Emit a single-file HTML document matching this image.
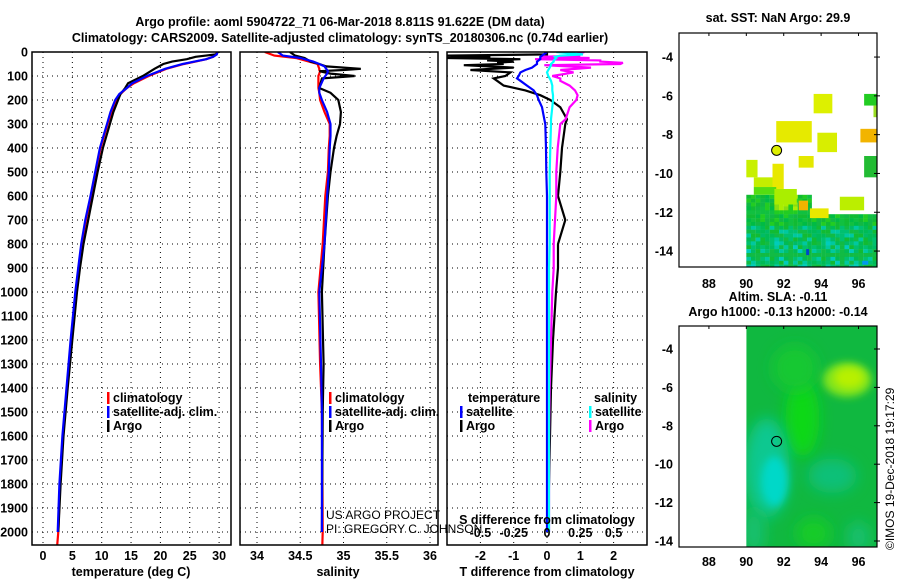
<!DOCTYPE html>
<html><head><meta charset="utf-8"><style>
html,body{margin:0;padding:0;background:#fff;overflow:hidden;}
svg{display:block;font-family:"Liberation Sans",Arial,sans-serif;}
.b{font-weight:bold;font-size:12.5px;}
.n{font-weight:normal;font-size:12px;}
</style></head><body>
<svg id="fig" width="900" height="580" viewBox="0 0 900 580"></svg>
<script>
// ---------- data ----------
const tempDepth=[0,10,20,30,40,50,70,100,130,150,175,200,250,300,400,500,600,700,800,900,1000,1200,1400,1600,1800,2000];
const tempClim=[29.6,29.5,29.0,27.8,26.0,24.0,21.0,18.0,15.5,14.3,13.2,12.6,11.7,11.0,9.8,9.0,8.2,7.3,6.6,6.1,5.6,4.8,4.1,3.4,2.9,2.6];
const tempSat=[29.7,29.6,29.0,27.8,25.8,23.8,20.8,17.7,15.2,14.3,13.0,12.3,11.5,10.9,9.7,8.9,8.1,7.2,6.5,6.0,5.5,4.7,4.0,3.3,2.8,2.5];
const tempArgo=[29.8,29.5,26.0,24.5,22.0,20.5,19.0,17.0,14.5,14.0,13.2,12.8,12.0,11.4,10.2,9.3,8.5,7.7,6.9,6.3,5.8,5.0,4.2,3.5,3.0,2.6];
const salDepth=[0,15,25,40,50,60,70,75,80,90,100,110,150,170,200,250,300,350,400,500,600,800,1000,1300,1500,2000];
const salClim=[34.09,34.2,34.45,34.6,34.7,34.71,34.72,34.72,34.73,34.72,34.71,34.71,34.71,34.72,34.73,34.78,34.84,34.84,34.83,34.82,34.79,34.76,34.71,34.73,34.75,34.76];
const salSat=[34.24,34.3,34.5,34.65,34.72,34.78,34.8,34.81,34.82,34.81,34.79,34.77,34.72,34.72,34.75,34.81,34.85,34.85,34.84,34.83,34.81,34.78,34.72,34.74,34.75,34.75];
const salArgo=[34.38,34.44,34.55,34.62,34.72,34.8,35.2,35.0,34.72,34.85,35.13,34.75,34.72,34.85,34.94,34.97,34.96,34.92,34.89,34.85,34.82,34.78,34.75,34.77,34.76,34.75];
const dDepth=[0,10,15,20,25,30,35,40,45,50,55,65,75,85,100,110,120,140,160,180,200,230,280,300,400,500,600,700,800,900,1000,1200,1400,1600,2000];
const dTSat=[0,-0.1,-0.15,-0.2,-0.2,-0.2,-0.25,-0.3,-0.3,-0.3,-0.35,-0.45,-0.65,-0.8,-0.85,-0.9,-0.8,-0.6,-0.4,-0.3,-0.25,-0.15,-0.08,-0.05,-0.03,-0.02,0,0,0,0,0,0,0,0,0];
const dTArgo=[0,0,-3,-1.7,-3,-0.8,-1.8,-1.0,-1.5,-1.3,-2.5,-1.0,-2.3,-1.1,-1.25,-1.6,-1.5,-1.3,-0.65,-0.2,0.1,0.4,0.6,0.55,0.45,0.4,0.33,0.55,0.33,0.33,0.27,0.18,0.12,0.09,0.03];
const dSSat=[0.07,0.27,0.1,0.06,0.07,0.06,0.05,0.05,0.04,0.03,0.03,0.02,0.01,0.0,0.01,0.02,0.03,0.04,0.04,0.045,0.045,0.04,0.03,0.03,0.025,0.02,0.02,0.02,0.02,0.015,0.015,0.015,0.015,0.015,0.015];
const dSArgo=[0.28,0.21,0.25,-0.05,0.32,-0.09,0.4,0.4,0.57,0.55,-0.02,0.33,0.1,0.2,0.04,0.1,0.1,0.17,0.21,0.23,0.22,0.17,0.14,0.1,0.08,0.07,0.07,0.06,0.05,0.05,0.04,0.03,0.02,0.015,0.015];
const depthTicks=[0,100,200,300,400,500,600,700,800,900,1000,1100,1200,1300,1400,1500,1600,1700,1800,1900,2000];
const tempTicks=[0,5,10,15,20,25,30];
const salTicks=[34,34.5,35,35.5,36];
const dTTicks=[-2,-1,0,1,2];
const dSTicks=[-0.5,-0.25,0,0.25,0.5];
const lonTicks=[88,90,92,94,96];
const latTicks=[-4,-6,-8,-10,-12,-14];
// SST patches: [lon0,lat0,lon1,lat1,color]
const sstPatches=[
 [93.6,-5.9,94.6,-6.9,'#ddf000'],[96.3,-5.9,97,-6.5,'#22cc22'],[96.8,-6.5,97,-7.1,'#99dd22'],
 [91.6,-7.3,93.5,-8.4,'#e6ea00'],[93.8,-7.9,94.85,-8.9,'#d8ee00'],[96.1,-7.7,97,-8.4,'#f2b400'],
 [92.8,-9.1,93.6,-9.7,'#e4e800'],[96.3,-9.1,97,-10.2,'#22bb33'],[90,-9.3,90.6,-10.2,'#c8f000'],
 [91.4,-9.5,92,-10.8,'#e8e800'],[90.4,-10.2,91.4,-10.7,'#c4ee00'],[90.4,-10.7,91.6,-11.1,'#55dd11'],
 [91.5,-10.8,92.7,-11.6,'#aaee00'],[95.0,-11.2,96.3,-11.9,'#bbee00'],[93.4,-11.8,94.4,-12.3,'#e8e800'],
 [92.8,-11.4,93.3,-11.9,'#f2b400']
];
// ---------- helpers ----------
const svg=document.getElementById('fig');
const NS='http://www.w3.org/2000/svg';
function mk(tag,attrs,parent){const e=document.createElementNS(NS,tag);for(const k in attrs)e.setAttribute(k,attrs[k]);(parent||svg).appendChild(e);return e;}
function txt(x,y,s,anchor,cls,parent,extra){const t=mk('text',Object.assign({x:x,y:y,'text-anchor':anchor||'start','class':cls||'b'},extra||{}),parent);t.textContent=s;return t;}
const yD=d=>52+d*0.24;
const xT=t=>43+t*5.87;
const xS=s=>257+(s-34)*86.5;
const xDT=t=>547+t*33.3;
const xDS=s=>547+s*133.2;
const mLon=l=>679+(l-86.4)*18.7;
const m1Lat=l=>33+(-2.76-l)*19.4;
const m2Lat=l=>349+(-4-l)*19.2;
function frame(x0,x1,name){
  const g=mk('g',{});
  depthTicks.forEach(d=>{if(d>0)mk('line',{x1:x0,x2:x1,y1:yD(d),y2:yD(d),stroke:'#000','stroke-width':1,'stroke-dasharray':'1,4'},g);});
  return g;
}
function vgrid(g,xs){xs.forEach(x=>mk('line',{x1:x,x2:x,y1:52,y2:545,stroke:'#000','stroke-width':1,'stroke-dasharray':'1,4'},g));}
function border(x0,x1,name){const r=mk('rect',{x:x0,y:52,width:x1-x0,height:493,fill:'none',stroke:'#000','stroke-width':1.5});}
function line(depths,vals,fx,color,name,parent){
  const pts=depths.map((d,i)=>fx(vals[i]).toFixed(1)+','+yD(d).toFixed(1)).join(' ');
  const p=mk('polyline',{points:pts,fill:'none',stroke:color,'stroke-width':2.2},parent);
  return p;
}
const defs=mk('defs',{});
function clipRect(id,x,y,w,h){const c=mk('clipPath',{id:id},defs);mk('rect',{x:x,y:y,width:w,height:h},c);}
clipRect('c1',32,52,199,493);clipRect('c2',240,52,198,493);clipRect('c3',447,52,200,493);
clipRect('cm1',679,33,198,234);clipRect('cm2',mLon(90),326,877-mLon(90),221);
const f=mk('filter',{id:'bl',x:'-50%',y:'-50%',width:'200%',height:'200%'},defs);mk('feGaussianBlur',{stdDeviation:7},f);
const f2=mk('filter',{id:'bl2',x:'-50%',y:'-50%',width:'200%',height:'200%'},defs);mk('feGaussianBlur',{stdDeviation:4},f2);
// titles
const t1=txt(340,26,'Argo profile: aoml 5904722_71 06-Mar-2018 8.811S 91.622E (DM data)','middle','b',null,{'font-size':'14.5px'});

const t2=txt(340,42,'Climatology: CARS2009. Satellite-adjusted climatology: synTS_20180306.nc (0.74d earlier)','middle','b',null,{'font-size':'14.5px'});

// ---- panel 1 temperature ----
const g1=frame(32,231,'temperature-panel');vgrid(g1,tempTicks.map(xT));
depthTicks.forEach(d=>{const t=txt(28,yD(d)+4.5,String(d),'end','b');});
tempTicks.forEach(v=>txt(xT(v),560,String(v),'middle'));
const xl1=txt(131,576,'temperature (deg C)','middle');
const l1=mk('g',{'clip-path':'url(#c1)'});
line(tempDepth.concat([2060]),tempClim.concat([2.4]),xT,'#ff0000','temp-climatology-line',l1);
line(tempDepth,tempArgo,xT,'#000','temp-argo-line',l1);
line(tempDepth,tempSat,xT,'#0000ff','temp-satellite-line',l1);
border(32,231,'temperature-panel-border');
function legend(x,y,items,name){
  const g=mk('g',{});
  items.forEach((it,i)=>{mk('rect',{x:x,y:y+i*14-10,width:2.5,height:12,fill:it[1]},g);txt(x+6,y+i*14,it[0],'start','b',g);});
}
legend(107,402,[['climatology','#ff0000'],['satellite-adj. clim.','#0000ff'],['Argo','#000']],'temperature-legend');
// ---- panel 2 salinity ----
const g2=frame(240,438,'salinity-panel');vgrid(g2,salTicks.map(xS));
salTicks.forEach(v=>txt(xS(v),560,String(v),'middle'));
const xl2=txt(338,576,'salinity','middle');
const l2=mk('g',{'clip-path':'url(#c2)'});
line(salDepth.concat([2060]),salClim.concat([34.755]),xS,'#ff0000','sal-climatology-line',l2);
line(salDepth,salArgo,xS,'#000','sal-argo-line',l2);
line(salDepth,salSat,xS,'#0000ff','sal-satellite-line',l2);
border(240,438,'salinity-panel-border');
legend(329,402,[['climatology','#ff0000'],['satellite-adj. clim.','#0000ff'],['Argo','#000']],'salinity-legend');
// ---- panel 3 differences ----
const g3=frame(447,647,'difference-panel');vgrid(g3,dTTicks.map(xDT));
dTTicks.forEach(v=>txt(xDT(v),560,String(v),'middle'));
const xl3=txt(547,576,'T difference from climatology','middle');
const l3=mk('g',{'clip-path':'url(#c3)'});
line(dDepth,dTArgo,xDT,'#000','dT-argo-line',l3);
line(dDepth,dSArgo,xDS,'#ff00ff','dS-argo-line',l3);
line(dDepth,dTSat,xDT,'#0000ff','dT-satellite-line',l3);
line(dDepth,dSSat,xDS,'#00ffff','dS-satellite-line',l3);
border(447,647,'difference-panel-border');
const st=txt(547,524,'S difference from climatology','middle');
dSTicks.forEach(v=>txt(xDS(v),537,String(v),'middle'));
txt(468,402,'temperature','start');
legend(460,416,[['satellite','#0000ff'],['Argo','#000']],'temperature-diff-legend');
txt(594,402,'salinity','start');
legend(589,416,[['satellite','#00ffff'],['Argo','#ff00ff']],'salinity-diff-legend');
const pr=mk('g',{});
txt(326,519,'US ARGO PROJECT','start','n',pr);
txt(326,533,'PI: GREGORY C. JOHNSON','start','n',pr);
// ---- map 1 SST ----
const m1=mk('g',{});
const m1c=mk('g',{'clip-path':'url(#cm1)'},m1);
const pal=['#11bb33','#00bb44','#22cc22','#11c040','#11b844'];
const palDeep=['#00bb55','#11bb44','#00c070','#00c8a0','#11bb33','#00bb66','#00ccbb'];
for(let lo=90;lo<97;lo+=0.25){for(let la=-11.1;la>-14.9;la-=0.2){
  if(lo>=93.4&&la>-11.9)continue;
  const i=Math.round((lo-90)*4),j=Math.round((-11.1-la)*5);
  const h=(i*7+j*13+i*j)%11;
  let c;
  if(la<-13.4)c=palDeep[h%7];else if(la<-12.6)c=palDeep[h%6];else c=pal[h%5];
  if(la>-11.9&&lo>=91.5&&lo<92.7)c=['#88dd11','#aaee00','#22cc22'][h%3];
  mk('rect',{x:mLon(lo),y:m1Lat(la),width:4.8,height:4.1,fill:c},m1c);
}}
mk('rect',{x:mLon(93.2),y:m1Lat(-13.9),width:3,height:6,fill:'#0044cc'},m1c);
mk('rect',{x:mLon(96.2),y:m1Lat(-14.5),width:6,height:4,fill:'#0099ee'},m1c);
sstPatches.forEach(p=>{const r=mk('rect',{x:mLon(p[0]),y:m1Lat(p[1]),width:mLon(p[2])-mLon(p[0]),height:m1Lat(p[3])-m1Lat(p[1]),fill:p[4]},m1c);});
mk('circle',{cx:mLon(91.62),cy:m1Lat(-8.81),r:5,fill:'#ddee00',stroke:'#000','stroke-width':1},m1);
mk('rect',{x:679,y:33,width:198,height:234,fill:'none',stroke:'#000','stroke-width':1.2},m1);
lonTicks.forEach(l=>{mk('line',{x1:mLon(l),x2:mLon(l),y1:33,y2:36,stroke:'#000'},m1);txt(mLon(l),288,String(l),'middle','b',m1);});
latTicks.forEach(l=>{mk('line',{x1:874,x2:880,y1:m1Lat(l),y2:m1Lat(l),stroke:'#000'},m1);txt(673,m1Lat(l)+4.5,String(l),'end','b',m1);});
const mt1=txt(778,22,'sat. SST: NaN Argo: 29.9','middle');
const mt2=txt(778,301,'Altim. SLA: -0.11','middle');
txt(778,316,'Argo h1000: -0.13 h2000: -0.14','middle');
// ---- map 2 SLA ----
const m2=mk('g',{});
const m2c=mk('g',{'clip-path':'url(#cm2)'},m2);
mk('rect',{x:mLon(90),y:326,width:877-mLon(90),height:221,fill:'#10b840'},m2c);
const blobs=[[93,-7.6,0.9,2.0,'#10d818','bl'],[92.6,-5,1.2,1.2,'#18c830','bl'],[95.4,-5.6,1.3,0.9,'#80e41a','bl2'],[95.5,-5.5,0.8,0.55,'#b8f000','bl2'],
 [91.1,-10.2,1.2,2.6,'#10c890','bl'],[91.5,-10.9,0.7,1.3,'#00d8c8','bl2'],[94.6,-10.6,1.3,0.9,'#10c078','bl'],
 [93.6,-13.6,0.9,0.8,'#18cc28','bl'],[96,-13.8,0.6,0.8,'#14c070','bl'],[90.4,-13.5,0.6,1.2,'#14c070','bl']];
blobs.forEach(b=>mk('ellipse',{cx:mLon(b[0]),cy:m2Lat(b[1]),rx:b[2]*18.7,ry:b[3]*19.2,fill:b[4],filter:'url(#'+b[5]+')'},m2c));
mk('circle',{cx:mLon(91.62),cy:m2Lat(-8.81),r:5,fill:'none',stroke:'#000','stroke-width':1},m2);
mk('rect',{x:679,y:326,width:198,height:221,fill:'none',stroke:'#000','stroke-width':1.2},m2);
lonTicks.forEach(l=>{mk('line',{x1:mLon(l),x2:mLon(l),y1:326,y2:329,stroke:'#000'},m2);txt(mLon(l),566,String(l),'middle','b',m2);});
latTicks.forEach(l=>{mk('line',{x1:874,x2:880,y1:m2Lat(l),y2:m2Lat(l),stroke:'#000'},m2);txt(673,m2Lat(l)+4.5,String(l),'end','b',m2);});
const cr=txt(0,0,'©IMOS 19-Dec-2018 19:17:29','start','n',null,{'font-size':'12.5px',transform:'translate(894,550) rotate(-90)'});

</script>
</body></html>
